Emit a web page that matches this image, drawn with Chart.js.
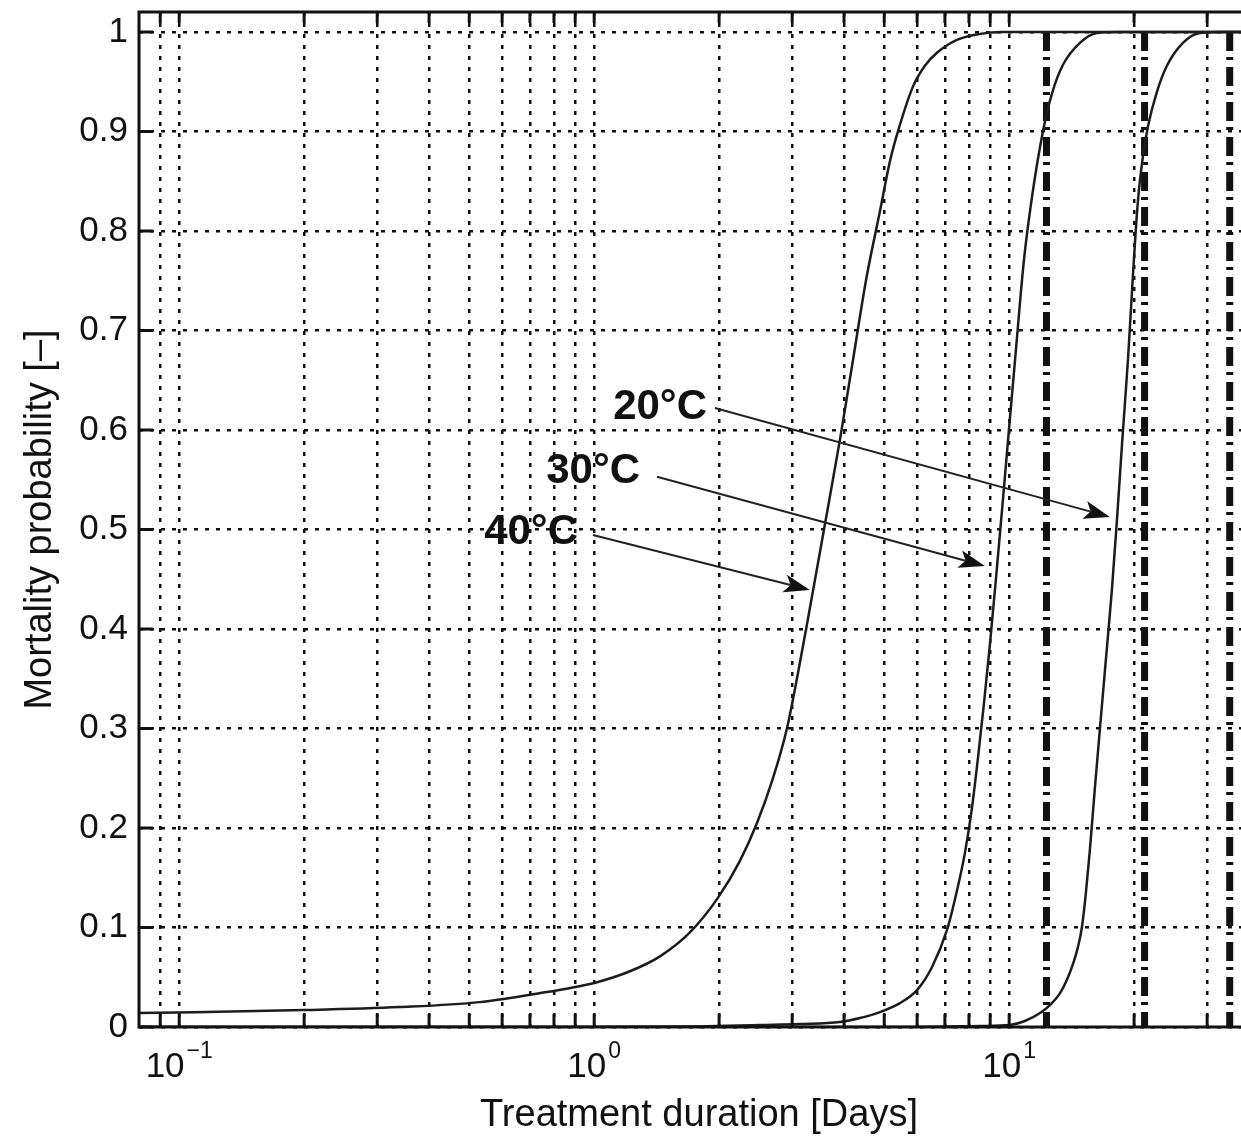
<!DOCTYPE html>
<html>
<head>
<meta charset="utf-8">
<title>Mortality probability vs treatment duration</title>
<script src="https://cdn.jsdelivr.net/npm/chart.js@4.4.1/dist/chart.umd.min.js"></script>
<style>
  html, body { margin: 0; padding: 0; background: #fff; }
  /* the source figure is cut off at the right edge, so the canvas is a bit wider than the page */
  #wrap { width: 1241px; height: 1138px; overflow: hidden; }
</style>
</head>
<body>
<div id="wrap"><canvas id="mortalityChart" width="1259" height="1138"></canvas></div>
<script>
// 40°C curve
const days40 = [0.08, 0.2, 0.3395, 0.5292, 0.738, 0.872, 1.016, 1.2195, 1.4406, 1.701, 1.988, 2.245, 2.468, 2.697, 2.914, 3.08, 3.274, 3.579, 3.91, 4.203, 4.517, 4.883, 5.161, 5.395, 5.863, 6.266, 6.699, 7.484, 8.504, 9.608, 40]
const prob40 = [0.014, 0.017, 0.020, 0.025, 0.034, 0.039, 0.045, 0.056, 0.071, 0.095, 0.130, 0.167, 0.205, 0.25, 0.30, 0.35, 0.41, 0.50, 0.59, 0.67, 0.75, 0.82, 0.87, 0.90, 0.945, 0.966, 0.979, 0.992, 0.998, 1.0, 1.0]

// 30°C curve
const days30 = [0.08, 1, 1.798, 2.509, 3.133, 3.91, 4.37, 4.883, 5.456, 5.996, 6.515, 7.083, 7.485, 7.824, 8.134, 8.409, 8.694, 8.99, 9.292, 9.661, 9.987, 10.38, 10.85, 11.35, 12.06, 12.68, 13.48, 14.81, 16.27, 18.49, 40]
const prob30 = [0, 0, 0.0005, 0.002, 0.003, 0.005, 0.009, 0.015, 0.024, 0.037, 0.060, 0.0975, 0.137, 0.175, 0.22, 0.27, 0.325, 0.385, 0.45, 0.53, 0.60, 0.68, 0.77, 0.834, 0.90, 0.938, 0.967, 0.989, 0.999, 1, 1]

// 20°C curve
const days20 = [0.08, 5.456, 8.504, 10.04, 10.91, 11.87, 12.54, 13.26, 13.86, 14.32, 14.64, 14.97, 15.31, 15.65, 16.09, 16.55, 17.11, 17.69, 18.19, 18.7, 19.33, 19.87, 20.43, 21.01, 21.6, 22.71, 24.0, 26.23, 28.82, 33.11, 40]
const prob20 = [0, 0, 0.001, 0.002, 0.006, 0.014, 0.022, 0.034, 0.050, 0.066, 0.080, 0.100, 0.135, 0.178, 0.24, 0.30, 0.37, 0.44, 0.51, 0.585, 0.67, 0.755, 0.83, 0.875, 0.905, 0.94, 0.966, 0.989, 0.999, 1, 1]

// thick dash-dot reference lines
const refDays = [12.3, 21.2, 34]
const refProb = [1, 0]

// annotations (label anchor, arrow start, arrow tip)
const labelText = ["20°C", "30°C", "40°C"]
const labelDays = [1.87, 1.29, 0.914]
const labelProb = [0.623, 0.558, 0.4975]
const arrowFromDays = [1.954, 1.417, 0.993]
const arrowFromProb = [0.622, 0.553, 0.4945]
const arrowToDays = [17.49, 8.74, 3.31]
const arrowToProb = [0.5126, 0.4633, 0.4392]

// axes
const yTicks = [0, 0.1, 0.2, 0.3, 0.4, 0.5, 0.6, 0.7, 0.8, 0.9, 1]
const xDecades = [0.1, 1, 10]
const xExponents = ["\u22121", "0", "1"]
const xMantissas = [1, 2, 3, 4, 5, 6, 7, 8, 9]
const xMin = 0.08
const xMax = 40

const xGrid = []
;[0.01, 0.1, 1, 10].forEach((d) => {
  xMantissas.forEach((m) => {
    const v = +(m * d).toPrecision(3)
    if (v > xMin && v < xMax) xGrid.push(v)
  })
})

const FONT = '"Liberation Sans", Arial, Helvetica, sans-serif'
const INK = "#111"
Chart.defaults.font.family = FONT
Chart.defaults.color = INK

const toPoints = (xs, ys) => xs.map((x, i) => ({ x: x, y: ys[i] }))

const curve = (xs, ys) => ({
  data: toPoints(xs, ys),
  borderColor: "#1c1c1c",
  borderWidth: 2.5,
  pointRadius: 0,
  cubicInterpolationMode: "monotone",
  fill: false,
})

const refLine = (d) => ({
  data: refProb.map((p) => ({ x: d, y: p })),
  borderColor: INK,
  borderWidth: 7,
  borderDash: [19, 6, 3, 7],
  borderCapStyle: "butt",
  pointRadius: 0,
  fill: false,
})

// inward tick marks and the box round the axes
const frameAndTicks = {
  id: "frameAndTicks",
  afterDatasetsDraw(chart) {
    const { ctx, chartArea: a, scales } = chart
    ctx.save()
    ctx.strokeStyle = INK
    ctx.lineWidth = 3
    ctx.beginPath()
    yTicks.forEach((v) => {
      const py = scales.y.getPixelForValue(v)
      ctx.moveTo(a.left, py)
      ctx.lineTo(a.left + 14, py)
    })
    xGrid.forEach((v) => {
      const px = scales.x.getPixelForValue(v)
      ctx.moveTo(px, a.bottom)
      ctx.lineTo(px, a.bottom - 13)
      ctx.moveTo(px, a.top)
      ctx.lineTo(px, a.top + 11)
    })
    ctx.stroke()
    ctx.beginPath()
    ctx.moveTo(a.right, a.top)
    ctx.lineTo(a.left, a.top)
    ctx.lineTo(a.left, a.bottom)
    ctx.lineTo(a.right, a.bottom)
    ctx.stroke()
    ctx.restore()
  },
}

// temperature labels with arrows
const arrowLabels = {
  id: "arrowLabels",
  afterDatasetsDraw(chart) {
    const { ctx, scales } = chart
    ctx.save()
    ctx.fillStyle = INK
    ctx.strokeStyle = "#222"
    ctx.lineWidth = 2
    ctx.font = "bold 42px " + FONT
    ctx.textAlign = "right"
    ctx.textBaseline = "middle"
    labelText.forEach((t, i) => {
      ctx.fillText(t, scales.x.getPixelForValue(labelDays[i]), scales.y.getPixelForValue(labelProb[i]))
      const x0 = scales.x.getPixelForValue(arrowFromDays[i])
      const y0 = scales.y.getPixelForValue(arrowFromProb[i])
      const x1 = scales.x.getPixelForValue(arrowToDays[i])
      const y1 = scales.y.getPixelForValue(arrowToProb[i])
      const ang = Math.atan2(y1 - y0, x1 - x0)
      const c = Math.cos(ang)
      const s = Math.sin(ang)
      const bx = x1 - 26 * c
      const by = y1 - 26 * s
      ctx.beginPath()
      ctx.moveTo(x0, y0)
      ctx.lineTo(bx + 6 * c, by + 6 * s)
      ctx.stroke()
      ctx.beginPath()
      ctx.moveTo(x1, y1)
      ctx.lineTo(bx - 9 * s, by + 9 * c)
      ctx.lineTo(bx + 6 * c, by + 6 * s)
      ctx.lineTo(bx + 9 * s, by - 9 * c)
      ctx.closePath()
      ctx.fill()
    })
    ctx.restore()
  },
}

// 10^n tick labels on the log axis
const powerLabels = {
  id: "powerLabels",
  afterDraw(chart) {
    const { ctx, chartArea: a, scales } = chart
    const baseFont = "35px " + FONT
    const expFont = "23px " + FONT
    ctx.save()
    ctx.fillStyle = INK
    ctx.textAlign = "left"
    ctx.textBaseline = "alphabetic"
    xDecades.forEach((v, i) => {
      ctx.font = baseFont
      const wb = ctx.measureText("10").width
      ctx.font = expFont
      const we = ctx.measureText(xExponents[i]).width
      const left = scales.x.getPixelForValue(v) - (wb + 2 + we) / 2
      ctx.font = baseFont
      ctx.fillText("10", left, a.bottom + 50)
      ctx.font = expFont
      ctx.fillText(xExponents[i], left + wb + 2, a.bottom + 31)
    })
    ctx.restore()
  },
}

const gridStyle = { color: INK, lineWidth: 2.5, drawTicks: false }
const gridBorder = { display: false, dash: [4, 7] }

new Chart(document.getElementById("mortalityChart"), {
  type: "line",
  data: {
    datasets: [
      curve(days40, prob40),
      curve(days30, prob30),
      curve(days20, prob20),
      ...refDays.map(refLine),
    ],
  },
  options: {
    responsive: false,
    animation: false,
    layout: { padding: { top: 12, right: 0, bottom: 0, left: 0 } },
    plugins: {
      legend: { display: false },
      tooltip: { enabled: false },
    },
    scales: {
      x: {
        type: "logarithmic",
        min: xMin,
        max: xMax,
        afterBuildTicks: (scale) => {
          scale.ticks = xGrid.map((v) => ({ value: v }))
        },
        afterFit: (scale) => {
          scale.height = 111
          scale.paddingLeft = 0
          scale.paddingRight = 0
        },
        ticks: { display: false, autoSkip: false },
        grid: gridStyle,
        border: gridBorder,
        title: {
          display: true,
          text: "Treatment duration [Days]",
          font: { size: 38 },
          color: INK,
          padding: { top: 0, bottom: 0 },
        },
      },
      y: {
        type: "linear",
        min: 0,
        max: 1.02,
        afterBuildTicks: (scale) => {
          scale.ticks = yTicks.map((v) => ({ value: v }))
        },
        afterFit: (scale) => {
          scale.width = 139
          scale.paddingTop = 0
          scale.paddingBottom = 0
        },
        ticks: {
          padding: 11,
          font: { size: 35 },
          color: INK,
          callback: (value) => String(Number(value.toFixed(1))),
        },
        grid: gridStyle,
        border: gridBorder,
        title: {
          display: true,
          text: "Mortality probability [–]",
          font: { size: 38 },
          color: INK,
          padding: { top: 18, bottom: 0 },
        },
      },
    },
  },
  plugins: [frameAndTicks, arrowLabels, powerLabels],
})
</script>
</body>
</html>
